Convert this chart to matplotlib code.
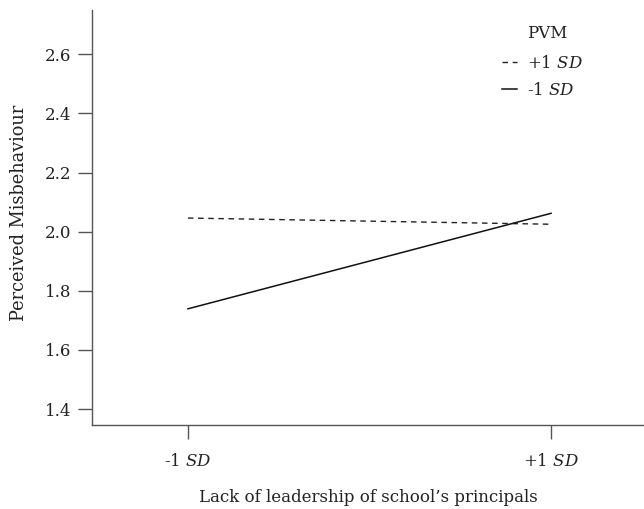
import numpy as np
import matplotlib.pyplot as plt

plt.rcParams['font.family'] = 'DejaVu Serif'
plt.rcParams['mathtext.fontset'] = 'dejavuserif'

# simple slopes: leadership (-1 SD, +1 SD) by PVM level
x_pos = [0, 1]
x_labels = ['-1 $\\it{SD}$', '+1 $\\it{SD}$']
pvm_high = [2.046, 2.025]
pvm_low = [1.739, 2.062]
y_ticks = [1.4, 1.6, 1.8, 2.0, 2.2, 2.4, 2.6]

txt = '#222222'
fs = 12

fig = plt.figure(figsize=(6.44, 5.09), dpi=100)
ax = fig.add_axes([0.143, 0.165, 0.857, 0.815])

ax.plot(x_pos, pvm_high, color='#222222', lw=1.0, dashes=(4, 3.3), label='+1 $\\it{SD}$')
ax.plot(x_pos, pvm_low, color='#111111', lw=1.1, label='-1 $\\it{SD}$')

ax.set_xlim(-0.264, 1.256)
ax.set_ylim(1.346, 2.749)
ax.set_xticks(x_pos)
ax.set_xticklabels(x_labels)
ax.set_yticks(y_ticks)
ax.set_yticklabels([f'{v:.1f}' for v in y_ticks])

for side in ['top', 'right']:
    ax.spines[side].set_visible(False)
for side in ['left', 'bottom']:
    ax.spines[side].set_color('#555555')
    ax.spines[side].set_linewidth(1.0)

ax.tick_params(axis='both', length=10, width=1.0, color='#555555',
               labelsize=fs, labelcolor=txt)
ax.tick_params(axis='y', pad=5)
ax.tick_params(axis='x', pad=10)

# axis titles
fig.text(19 / 644, 1 - 213 / 509, 'Perceived Misbehaviour', rotation=90,
         ha='center', va='center', fontsize=12.8, color=txt)
fig.text(368 / 644, 1 - 497 / 509, "Lack of leadership of school’s principals",
         ha='center', va='center', fontsize=fs, color=txt)

# legend
fig.text(527 / 644, 1 - 34 / 509, 'PVM', ha='left', va='center',
         fontsize=fs, color=txt)
leg = ax.legend(loc='upper left', bbox_to_anchor=(502 / 644, 1 - 55 / 509),
                bbox_transform=fig.transFigure, frameon=False, fontsize=fs,
                handlelength=0.9, handletextpad=0.6, labelspacing=0.62,
                borderaxespad=0, borderpad=0)
for t in leg.get_texts():
    t.set_color(txt)

fig.savefig('out.png', dpi=100)
